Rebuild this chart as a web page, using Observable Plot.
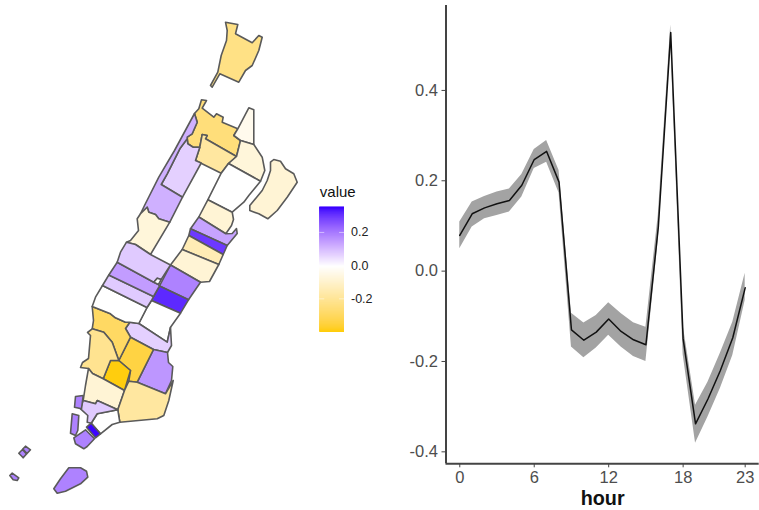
<!DOCTYPE html>
<html>
<head>
<meta charset="utf-8">
<script src="https://cdn.jsdelivr.net/npm/d3@7"></script>
<script src="https://cdn.jsdelivr.net/npm/@observablehq/plot@0.6"></script>
<style>
  html, body { margin: 0; padding: 0; background: #fff; }
  #page { position: relative; width: 759px; height: 510px; overflow: hidden; }
  #page > svg { position: absolute; left: 0; top: 0; background: transparent; }
  #page svg text { font-family: "Liberation Sans", Arial, sans-serif !important; }
</style>
</head>
<body>
<div id="page"></div>
<script>
// Hourly series (right panel)
const hours = d3.range(0, 24);
const effect = [0.079,0.127,0.140,0.149,0.1565,0.19,0.247,0.265,0.197,-0.130,-0.153,-0.135,-0.106,-0.1335,-0.152,-0.163,0.0975,0.528,-0.15,-0.338,-0.283,-0.22,-0.1475,-0.037];
const upper  = [0.1085,0.153,0.165,0.175,0.182,0.214,0.269,0.289,0.223,-0.093,-0.115,-0.098,-0.07,-0.094,-0.114,-0.124,0.125,0.545,-0.12,-0.297,-0.246,-0.182,-0.113,-0.0045];
const lower  = [0.0496,0.0975,0.116,0.123,0.131,0.164,0.227,0.241,0.173,-0.168,-0.192,-0.170,-0.142,-0.168,-0.189,-0.2,0.07,0.505,-0.185,-0.381,-0.323,-0.26,-0.187,-0.065];
const hourTicks = [0,6,12,18,23];
const effectTicks = [-0.4,-0.2,0,0.2,0.4];

// Zones of the map (left panel): value and outline in map grid units
const zoneValues = {
  inwood:-0.23, heights:-0.25, hamilton:-0.18, tip:-0.035, harlemE:-0.07, randalls:-0.08, harlem:0,
  upperW:0.07, riverside:0.12, ues1:-0.07, eh1:-0.08, eh2:0.14, eh3:0.3, eh4:-0.14, eh5:-0.08,
  mid1:0.19, mid2:0.32, mid3:0, mid4:0.07, east1:0.16, vill1:-0.34, vill2:-0.39, vill3:-0.29, vill4:-0.21,
  low1:-0.08, low2:-0.18, low3:0, low4:0.08, bat1:0.19, bat2:0.19, bat3:0.35, bat4:0.19,
  isl1a:0.19, isl1b:0.19, isl2:0.19, isl3:0.19, chel1:0, chel2:0.08, chel3:0.15, chel4:0.08, gap:0
};
const zoneOutlines = {
  inwood:[[225,21.7],[226.7,30],[226,40],[220.7,55],[217.3,71.7],[210,85],[211.7,86.7],[219.3,73.3],[238.3,81.7],[245,70],[251.7,65],[258.3,50],[261.7,36.7],[258.3,35],[251.7,42.3],[235,33.3],[237.3,24]],
  heights:[[194,113],[198.3,108.3],[201,99.3],[206,100],[201.7,107.7],[213.3,116.7],[216,113.3],[222.7,116.7],[221.7,121.7],[237.3,128.3],[233.3,135],[240,140],[236,156],[205,138.3],[206.7,135],[201.7,134],[199.3,146.7],[192.7,146.7],[187.3,143.3],[186.7,136.7],[191.7,133.3],[196.7,121.7]],
  hamilton:[[205,138.3],[236,156],[228,163],[220.7,172.7],[195,160],[199.3,146.7],[201.7,134],[206.7,135]],
  tip:[[237.3,128.3],[248.3,107.3],[253.3,109.3],[253.3,144],[240,140],[233.3,135]],
  harlemE:[[240,140],[253.3,144],[261.7,156.7],[264.3,170],[260,180.7],[228,163],[236,156]],
  randalls:[[270,161.7],[273.3,159],[280,160.7],[285,168.3],[293.3,173.3],[296.7,181.7],[286.7,196.7],[276.7,210],[267.3,218.3],[258.3,213.3],[249.3,210],[249.3,205],[261.7,190],[266.7,180],[270,170]],
  harlem:[[228,163],[260,180.7],[248.3,195],[243.3,201.7],[231.7,211.7],[207.3,199.3],[220.7,172.7]],
  upperW:[[187.3,143.3],[192.7,146.7],[199.3,146.7],[195,160],[200.7,162.5],[182,196.7],[160.7,184],[166.7,173.3],[179.3,148.3],[186.7,138.3]],
  riverside:[[194,113],[196.7,121.7],[191.7,133.3],[186.7,136.7],[186.7,138.3],[179.3,148.3],[166.7,173.3],[160.7,184],[182,196.7],[169.3,221.7],[158.3,218.3],[155,214],[148.3,211.7],[146.7,206.7],[140,213.3],[144,205],[158.3,176.7],[174,150]],
  ues1:[[136.7,218.3],[140,213.3],[146.7,206.7],[148.3,211.7],[155,214],[158.3,218.3],[169.3,221.7],[150,254],[135,244],[126,241.7],[130,240],[138,230]],
  eh1:[[207.3,199.3],[231.7,211.7],[233,219],[231,225],[225.3,233.3],[198.3,216.5]],
  eh2:[[198.3,216.5],[225.3,233.3],[231.7,233],[236,228],[236.7,233],[226.7,245],[190,228.3]],
  eh3:[[190,228.3],[226.7,245],[222.7,254],[188.3,235]],
  eh4:[[188.3,235],[222.7,254],[218.3,264],[181.7,249]],
  eh5:[[181.7,249],[218.3,264],[209,281],[200,281.7],[170,264.5]],
  mid1:[[170,264.5],[200,281.7],[188,299.3],[159,285.5]],
  mid2:[[159,285.5],[188,299.3],[180,312.7],[151,300],[153,296]],
  mid3:[[151,300],[180,312.7],[170,326.7],[166.7,341.7],[138.3,323],[146.5,307]],
  mid4:[[125,328],[129.3,321.7],[138.3,323],[166.7,341.7],[170,327],[171,345],[167,352],[153,349],[130,336.7]],
  east1:[[153,349],[167,352],[168,362],[172.3,366],[171,380],[165,393.3],[136.7,381.7]],
  vill1:[[130,336.7],[153,349],[136.7,381.7],[128.3,380.7],[130,370],[118.3,360]],
  vill2:[[110,360],[118.3,360],[130,370],[124,390],[102.7,378.3]],
  vill3:[[91.7,306],[110,313.3],[115,317.3],[125,321.7],[129.3,321.7],[125,328],[130,336.7],[118.3,360],[111.7,341.7],[103.3,331.7],[91.7,328.3],[93,320]],
  vill4:[[91.7,328.3],[103.3,331.7],[111.7,341.7],[118.3,360],[110,360],[102.7,378.3],[92,373],[88,368],[80,367],[82,362],[88,358],[90,335],[87,332]],
  low1:[[88,368],[92,373],[102.7,378.3],[124,390],[117.3,409.3],[96.7,400],[95,403.3],[82.7,400],[85,385]],
  low2:[[124,390],[128.3,380.7],[136.7,381.7],[165,393.3],[172.7,380],[168.3,400],[163.3,415],[156.7,418.3],[119.3,421.7],[117.3,409.3]],
  low3:[[117.3,409.3],[119.3,421.7],[111.7,424],[100,433.3],[90.7,422.7],[96.7,413.3]],
  low4:[[82.7,400],[95,403.3],[96.7,400],[117.3,409.3],[96.7,413.3],[90.7,422.7],[86.7,421.7],[87.3,415],[80,408.3]],
  bat1:[[75,396],[82.7,395],[81,408.3],[74,406.7]],
  bat2:[[71.7,413.3],[78.3,415],[77.3,430],[75,435],[70,432.7]],
  bat3:[[86,426.7],[90.7,422.7],[100,433.3],[95,437.3]],
  bat4:[[73.3,437.3],[85,429.3],[94,438.3],[86.7,446],[83.3,448.3],[75,443.3]],
  isl1a:[[18.3,452.7],[22,449],[26,453.5],[22.7,457.3]],
  isl1b:[[22.3,448.5],[25,445.7],[30,449.3],[26.5,453]],
  isl2:[[9.3,475],[11.7,472.7],[18.3,477.3],[16.7,480],[12.7,479.3]],
  isl3:[[68.3,467.3],[80,467.3],[86,470.7],[87.3,476.7],[80,483.3],[65,490.7],[56.7,492.7],[53.3,488.3],[60,478.3]],
  chel1:[[95,296.7],[102,285],[146.5,307],[138.3,323],[129.3,321.7],[125,321.7],[115,317.3],[110,313.3],[91.7,306]],
  chel2:[[102,285],[108.3,274.5],[153,296],[151,300],[146.5,307]],
  chel3:[[108.3,274.5],[116.7,261.7],[153.3,281.7],[158,284],[159,285.5],[153,296]],
  chel4:[[116.7,261.7],[120,251.7],[126,241.7],[135,244],[150,254],[170,264.5],[160.7,279],[156.7,277.7],[153.3,281.7]],
  gap:[[156.7,277.7],[160.7,279],[158,284],[153.3,281.7]]
};
const legendTicks = [-0.2,0,0.2];
const legendDomain = [-0.395,0.352];

const colorScale = {
  type: "linear",
  domain: [-0.395, 0, 0.352],
  range: ["#ffcc00", "#ffffff", "#3a00ff"],
  interpolate: "lab",
  clamp: true
};

const page = document.getElementById("page");

// Map
const zoneRows = Object.keys(zoneOutlines).flatMap(id =>
  zoneOutlines[id].map(([gx, gy]) => ({id, gx, gy, value: zoneValues[id]})));
page.append(Plot.plot({
  width: 310, height: 510,
  margin: 0,
  x: {domain: [0, 310], range: [0, 310], axis: null},
  y: {domain: [0, 510], range: [0, 510], axis: null},
  color: colorScale,
  marks: [
    Plot.line(zoneRows, {
      x: "gx", y: "gy", z: "id", fill: "value",
      curve: "linear-closed", stroke: "#5a5a5a", strokeWidth: 1.6, strokeLinejoin: "round"
    })
  ]
}));

// Legend
const legendSteps = d3.range(legendDomain[0], legendDomain[1] + 0.001, 0.003);
const legend = Plot.plot({
  width: 90, height: 510,
  marginLeft: 9.3, marginRight: 56, marginTop: 206.7, marginBottom: 179.3,
  x: {domain: [0, 1], axis: null},
  y: {domain: legendDomain, axis: null},
  color: colorScale,
  marks: [
    Plot.ruleY(legendSteps, {x1: 0, x2: 1, y: d => d, stroke: d => d, strokeWidth: 1.5}),
    Plot.ruleY(legendTicks, {x1: 0, x2: 0.2, stroke: "#fff", strokeWidth: 0.5}),
    Plot.ruleY(legendTicks, {x1: 0.8, x2: 1, stroke: "#fff", strokeWidth: 0.5}),
    Plot.text(legendTicks, {
      x: 1, y: d => d, text: d => d3.format(".1f")(d).replace("\u2212", "-"),
      dx: 6.5, textAnchor: "start", fontSize: 12.5, fill: "#222"
    }),
    Plot.text(["value"], {
      frameAnchor: "top-left", text: d => d, dy: -14.7, fontSize: 15, fill: "#111", lineAnchor: "middle"
    })
  ]
});
legend.style.left = "310px";
legend.style.overflow = "visible";
page.append(legend);

// Hourly line chart
const rows = hours.map((h, i) => ({h, effect: effect[i], upper: upper[i], lower: lower[i]}));
const chart = Plot.plot({
  width: 759, height: 510,
  marginLeft: 445.5, marginRight: 0.3, marginTop: 5, marginBottom: 46.7,
  x: {domain: [-1.11, 24.13], ticks: hourTicks, label: null},
  y: {domain: [-0.4265, 0.588], ticks: effectTicks, label: null},
  marks: [
    Plot.areaY(rows, {x: "h", y1: "lower", y2: "upper", fill: "#a3a3a3"}),
    Plot.line(rows, {x: "h", y: "effect", stroke: "#111", strokeWidth: 1.5}),
    Plot.ruleX([-1.11], {stroke: "#444", strokeWidth: 2}),
    Plot.ruleY([-0.4265], {stroke: "#444", strokeWidth: 2}),
    Plot.axisX({ticks: hourTicks, tickSize: 4, tickPadding: 3, fontSize: 16.5, color: "#4d4d4d", stroke: "#444", label: null, tickFormat: d => String(d)}),
    Plot.axisY({ticks: effectTicks, tickSize: 4, tickPadding: 4, fontSize: 16.5, color: "#4d4d4d", stroke: "#444", label: null, tickFormat: d => d3.format(".1f")(d).replace("\u2212", "-")}),
    Plot.text(["hour"], {
      frameAnchor: "bottom", text: d => d, dy: 41, fontSize: 19.8, fontWeight: "bold", fill: "#111"
    })
  ]
});
chart.style.pointerEvents = "none";
page.append(chart);
</script>
</body>
</html>
